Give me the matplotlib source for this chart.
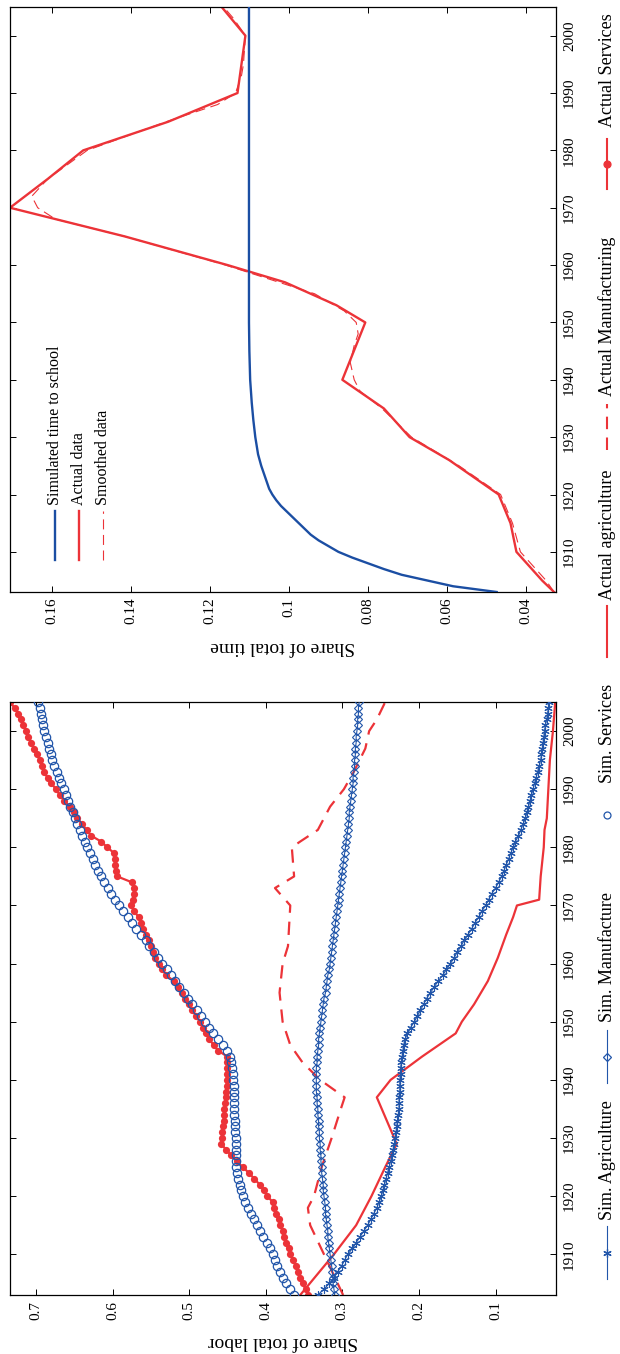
import matplotlib
matplotlib.use('Agg')
import matplotlib.pyplot as plt
import numpy as np

plt.rcParams['font.family'] = ['Liberation Serif', 'DejaVu Serif']

BLUE = '#2256aa'
RED = '#ec3338'
ASTERISK = (6, 2, 0)
W, H = 620, 1354

# --- Labor shares (annual, 1903-2005) ---
years = np.arange(1903, 2006)

sim_agri = [
    .332, .324, .317, .311, .306, .301, .297,
    .293, .287, .282, .277, .272, .267, .263, .259, .255, .252,
    .249, .247, .245, .243, .241, .239, .237, .235, .234, .232,
    .231, .230, .229, .228, .227, .226, .226, .226, .225, .225,
    .225, .224, .224, .223, .222, .221, .220, .218, .215, .211,
    .206, .202, .198, .194, .190, .185, .180, .175, .169, .164,
    .159, .154, .150, .145, .141, .136, .131, .127, .122, .118,
    .113, .109, .105, .100, .096, .092, .089, .086, .083, .080,
    .077, .074, .070, .067, .064, .061, .059, .057, .055, .053,
    .051, .049, .047, .045, .043, .041, .040, .039, .038, .037,
    .036, .035, .033, .032, .031, .030]

sim_manuf = [
    .310, .311, .312, .312, .313, .314, .315,
    .316, .317, .318, .319, .319, .320, .321, .322, .322, .323,
    .324, .325, .325, .326, .327, .327, .328, .328, .329, .329,
    .330, .330, .331, .331, .332, .332, .333, .333, .334, .334,
    .334, .334, .334, .333, .333, .332, .331, .331, .330, .329,
    .328, .327, .326, .325, .324, .322, .321, .320, .319, .317,
    .316, .315, .314, .313, .312, .311, .310, .309, .308, .307,
    .306, .305, .304, .303, .302, .301, .300, .299, .298, .297,
    .296, .295, .294, .293, .292, .291, .291, .290, .289, .288,
    .287, .286, .286, .285, .284, .284, .283, .283, .282, .282,
    .281, .280, .280, .279, .279, .278]

sim_serv = [
    .363, .368, .373, .377, .381, .385, .388,
    .391, .395, .399, .403, .407, .411, .415, .419, .423, .427,
    .430, .432, .434, .436, .438, .439, .439, .439, .439, .439,
    .439, .440, .440, .440, .441, .441, .441, .442, .442, .442,
    .443, .443, .444, .445, .447, .450, .456, .463, .469, .474,
    .479, .485, .490, .496, .501, .507, .513, .518, .524, .529,
    .535, .541, .546, .552, .557, .563, .569, .575, .580, .586,
    .592, .597, .602, .606, .611, .615, .619, .623, .626, .630,
    .633, .636, .640, .643, .646, .649, .652, .655, .658, .661,
    .664, .667, .670, .673, .676, .679, .681, .683, .685, .687,
    .689, .691, .692, .694, .695, .697]

act_serv = [
    .345, .348, .352, .355, .358, .361, .364,
    .368, .370, .373, .376, .378, .381, .383, .386, .389, .391,
    .398, .402, .408, .415, .422, .430, .438, .445, .452, .458,
    .457, .457, .456, .455, .455, .454, .453, .452, .452, .451,
    .451, .451, .451, .450, .450, .462, .468, .474, .478, .482,
    .486, .491, .496, .500, .505, .509, .515, .520, .530, .535,
    .540, .544, .547, .550, .553, .556, .560, .563, .566, .572,
    .576, .573, .572, .572, .575, .594, .596, .597, .597, .598,
    .607, .615, .628, .634, .640, .646, .651, .656, .663, .669,
    .674, .680, .685, .690, .692, .695, .699, .703, .706, .710,
    .713, .717, .720, .723, .728, .734]

agri_years = [1903, 1910, 1915, 1920, 1925, 1929, 1937, 1940, 1944, 1948, 1950,
              1953, 1957, 1961, 1965, 1968, 1970, 1971, 1975, 1980, 1983, 1985,
              1990, 1995, 2000, 2005]
act_agri = [.355, .311, .282, .262, .244, .229, .255, .237, .196, .152, .144,
            .128, .110, .097, .086, .077, .072, .043, .041, .037, .036, .033,
            .031, .029, .025, .022]

manuf_years = [1903, 1910, 1915, 1918, 1920, 1925, 1930, 1935, 1937, 1940, 1943,
               1946, 1950, 1955, 1960, 1963, 1970, 1973, 1975, 1980, 1981, 1983,
               1987, 1990, 1993, 1997, 2000, 2002, 2005]
act_manuf = [.299, .324, .342, .345, .337, .327, .314, .302, .297, .329, .352,
             .368, .378, .382, .378, .371, .368, .388, .363, .366, .355, .332,
             .316, .298, .285, .270, .265, .255, .244]

# --- Time spent in school ---
sim_years = [1903, 1904, 1905, 1906, 1907, 1908, 1909, 1910, 1911, 1912, 1913,
             1914, 1915, 1916, 1917, 1918, 1919, 1920, 1921, 1923, 1925, 1927,
             1930, 1933, 1936, 1940, 1945, 1950, 2005]
sim_school = [.0475, .0585, .065, .0715, .076, .080, .084, .0875, .090, .0925,
              .0945, .096, .0975, .099, .1005, .102, .1032, .1042, .105, .106,
              .107, .1078, .1085, .109, .1094, .1098, .110, .1101, .1101]

act_years = [1903, 1905, 1910, 1915, 1920, 1926, 1930, 1935, 1940, 1950, 1953,
             1957, 1960, 1965, 1970, 1975, 1980, 1985, 1990, 1995, 2000, 2005]
act_school = [.033, .036, .0425, .044, .047, .0595, .0695, .076, .0865, .0807,
              .088, .101, .1155, .1415, .1705, .161, .152, .1305, .113, .112,
              .111, .117]

smooth_years = [1903, 1905, 1910, 1915, 1920, 1925, 1930, 1935, 1938, 1940, 1943,
                1946, 1948, 1950, 1952, 1955, 1960, 1965, 1968, 1970, 1972, 1975,
                1978, 1980, 1985, 1988, 1990, 1993, 1995, 2000, 2003, 2005]
smooth_school = [.033, .035, .0415, .0435, .0465, .057, .069, .0765, .082, .0835,
                 .0845, .0835, .0825, .083, .086, .0935, .116, .1415, .159, .1635,
                 .165, .161, .155, .151, .131, .118, .1135, .112, .1115, .111,
                 .114, .1165]

year_ticks = [1910, 1920, 1930, 1940, 1950, 1960, 1970, 1980, 1990, 2000]
labor_ticks = [0.1, 0.2, 0.3, 0.4, 0.5, 0.6, 0.7]
labor_labels = ['0.1', '0.2', '0.3', '0.4', '0.5', '0.6', '0.7']
time_ticks = [0.04, 0.06, 0.08, 0.10, 0.12, 0.14, 0.16]
time_labels = ['0.04', '0.06', '0.08', '0.1', '0.12', '0.14', '0.16']


def px_axes(left, top, right, bottom):
    return fig.add_axes([left / W, 1 - bottom / H, (right - left) / W, (bottom - top) / H])


def style_axes(ax, ticks, labels, xlim, label):
    ax.set_ylim(1903, 2005)
    ax.set_xlim(*xlim)
    ax.set_yticks(year_ticks)
    ax.set_yticklabels([str(y) for y in year_ticks])
    ax.set_xticks(ticks)
    ax.set_xticklabels(labels)
    ax.tick_params(axis='both', direction='in', length=4, width=0.7, labelsize=11,
                   top=True, bottom=True, left=True, right=True)
    ax.tick_params(axis='y', labelleft=False, labelright=True, labelrotation=90, pad=5)
    ax.tick_params(axis='x', labelrotation=90, pad=4)
    for lab in ax.get_yticklabels():
        lab.set_va('center')
    for s in ax.spines.values():
        s.set_linewidth(0.9)
    ax.set_xlabel(label, rotation=180, fontsize=14, labelpad=10)


def legend_entry(x, y0, y1, text, tx, color, ls='-', lw=1.5, marker=None, ms=5,
                 mfc=None, size=13):
    # vertical handle from y0 (lower) to y1 (upper), text running upward
    if ls != 'none':
        fig.add_artist(plt.Line2D([x / W, x / W], [1 - y0 / H, 1 - y1 / H],
                                  color=color, ls=ls, lw=lw))
    if marker:
        fig.add_artist(plt.Line2D([x / W], [1 - (y0 + y1) / 2 / H], color=color,
                                  marker=marker, ms=ms, ls='none',
                                  mfc=mfc if mfc else color, mew=0.9))
    fig.text(x / W, 1 - tx / H, text, rotation=90, rotation_mode='anchor',
             ha='left', va='center', fontsize=size)


fig = plt.figure(figsize=(W / 100, H / 100), dpi=100)

# --- Time to school panel ---
ax_t = px_axes(10, 7, 556, 592)
ax_t.plot(sim_school, sim_years, color='#1b4ea3', lw=1.7, zorder=3)
ax_t.plot(act_school, act_years, color=RED, lw=1.7, zorder=2)
ax_t.plot(smooth_school, smooth_years, color=RED, lw=0.8, ls=(0, (9, 5)), zorder=2)
style_axes(ax_t, time_ticks, time_labels, (0.1705, 0.0325), 'Share of total time')

# --- Labor share panel ---
ax_l = px_axes(10, 702, 556, 1295)
ax_l.plot(act_agri, agri_years, color=RED, lw=1.6, zorder=2)
ax_l.plot(act_manuf, manuf_years, color=RED, lw=1.6, ls=(0, (6, 4)), zorder=2)
ax_l.plot(act_serv, years, color=RED, lw=1.6, marker='o', ms=5.2, mew=0, zorder=2)
ax_l.plot(sim_agri, years, color=BLUE, lw=0.8, marker=ASTERISK, ms=6, mew=0.8,
          zorder=3)
ax_l.plot(sim_manuf, years, color=BLUE, lw=0.8, marker='D', ms=4.2, mfc='none',
          mew=0.8, zorder=3)
ax_l.plot(sim_serv, years, color=BLUE, ls='none', marker='o', ms=6, mfc='none',
          mew=0.9, zorder=3)
style_axes(ax_l, labor_ticks, labor_labels, (0.734, 0.021), 'Share of total labor')

# --- Inner legend (time panel) ---
legend_entry(55, 560, 511, 'Simulated time to school', 505, '#1b4ea3', lw=1.7, size=11.5)
legend_entry(79, 560, 511, 'Actual data', 505, RED, lw=1.7, size=11.5)
legend_entry(103, 560, 511, 'Smoothed data', 505, RED, lw=0.8, ls=(0, (9, 5)), size=11.5)

# --- Series legend along the right edge ---
LX = 607
legend_entry(LX, 1279, 1226, 'Sim. Agriculture', 1220, BLUE, lw=0.8, marker=ASTERISK,
             ms=6)
legend_entry(LX, 1083, 1030, 'Sim. Manufacture', 1022, BLUE, lw=0.8, marker='D',
             ms=4, mfc='none')
legend_entry(LX, 841, 789, 'Sim. Services', 783, BLUE, ls='none', marker='o',
             ms=5, mfc='none')
legend_entry(LX, 657, 606, 'Actual agriculture', 600, RED)
legend_entry(LX, 450, 404, 'Actual Manufacturing', 396, RED, ls=(0, (6, 4)))
legend_entry(LX, 189, 139, 'Actual Services', 127, RED, marker='o', ms=5)

fig.savefig('out.png', dpi=100, facecolor='white')
